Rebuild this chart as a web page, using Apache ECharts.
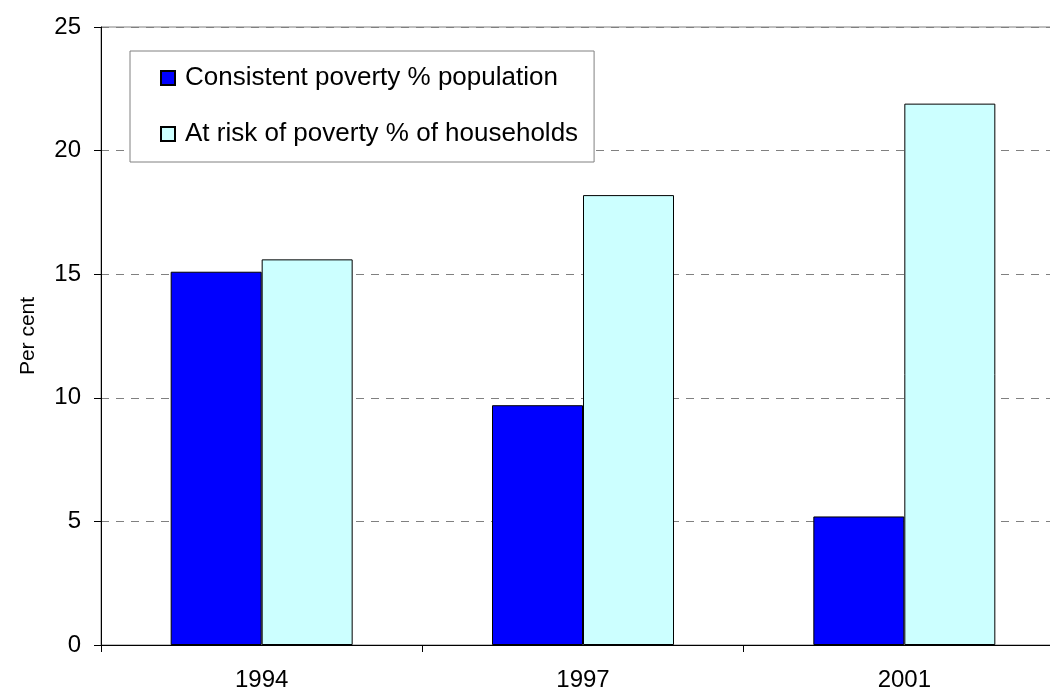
<!DOCTYPE html>
<html>
<head>
<meta charset="utf-8">
<title>Poverty rates</title>
<script src="https://cdn.jsdelivr.net/npm/echarts@6/dist/echarts.min.js"></script>
<style>
  html, body { margin: 0; padding: 0; background: #fff; overflow: hidden; }
  /* the plot area runs past the right edge of the window */
  #chart { width: 1080px; height: 692px; }
</style>
</head>
<body>
<div id="chart"></div>
<script>
// Survey years on the category axis
const categories = ['1994', '1997', '2001'];
// Consistent poverty, % of population
const consistentPoverty = [15.1, 9.7, 5.2];
// At risk of poverty, % of households
const atRiskPoverty = [15.6, 18.2, 21.9];
// Value axis range
const yMin = 0, yMax = 25, yStep = 5;

const font = '"Liberation Sans", Arial, sans-serif';
const chart = echarts.init(document.getElementById('chart'), null, { renderer: 'canvas' });

chart.setOption({
  animation: false,
  backgroundColor: '#ffffff',
  textStyle: { fontFamily: font, color: '#000' },
  grid: {
    left: 101, top: 27, width: 964, height: 618,
    show: true, borderColor: '#808080', borderWidth: 1, backgroundColor: 'transparent'
  },
  legend: {
    orient: 'vertical',
    left: 130, top: 51,
    padding: [14, 16, 15, 30],
    itemGap: 30,
    itemWidth: 14, itemHeight: 14,
    icon: 'rect',
    borderColor: '#808080', borderWidth: 1,
    backgroundColor: '#fff',
    textStyle: { fontFamily: font, fontSize: 26, lineHeight: 26, color: '#000', padding: [0, 0, 0, 5] },
    data: ['Consistent poverty % population', 'At risk of poverty % of households']
  },
  xAxis: {
    type: 'category',
    data: categories,
    boundaryGap: true,
    axisLine: { lineStyle: { color: '#000', width: 1 } },
    axisTick: { show: true, length: 7, lineStyle: { color: '#000' } },
    axisLabel: { fontFamily: font, fontSize: 24, color: '#000', margin: 23 },
    splitLine: { show: false }
  },
  yAxis: {
    type: 'value',
    min: yMin, max: yMax, interval: yStep,
    name: 'Per cent',
    nameLocation: 'middle',
    nameGap: 62,
    nameRotate: 90,
    nameTextStyle: { fontFamily: font, fontSize: 21, color: '#000' },
    axisLine: { show: true, lineStyle: { color: '#000', width: 1 } },
    axisTick: { show: true, length: 7, lineStyle: { color: '#000' } },
    axisLabel: { fontFamily: font, fontSize: 24, color: '#000', margin: 20 },
    splitLine: { show: true, lineStyle: { color: '#808080', width: 1, type: [8, 7] } }
  },
  series: [
    {
      name: 'Consistent poverty % population',
      type: 'bar',
      data: consistentPoverty,
      barWidth: 91,
      barGap: '0%',
      itemStyle: { color: '#0000ff', borderColor: '#000', borderWidth: 1 }
    },
    {
      name: 'At risk of poverty % of households',
      type: 'bar',
      data: atRiskPoverty,
      barWidth: 91,
      barGap: '0%',
      itemStyle: { color: '#ccffff', borderColor: '#000', borderWidth: 1 }
    }
  ]
});
</script>
</body>
</html>
